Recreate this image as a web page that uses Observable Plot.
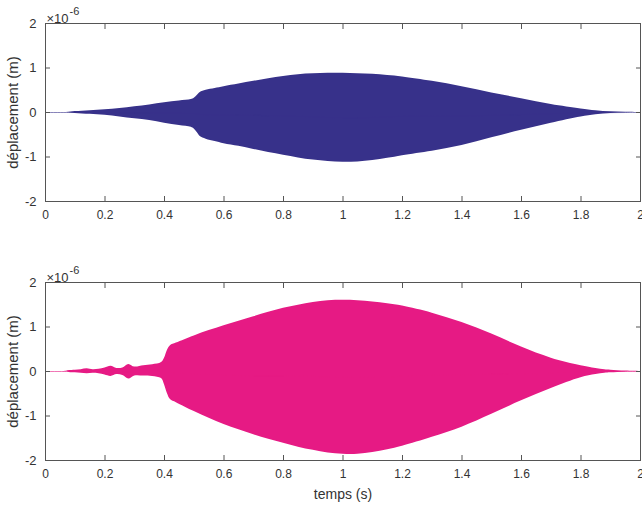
<!DOCTYPE html>
<html>
<head>
<meta charset="utf-8">
<script src="https://cdn.jsdelivr.net/npm/d3@7"></script>
<script src="https://cdn.jsdelivr.net/npm/@observablehq/plot@0.6"></script>
<style>
  html, body { margin: 0; padding: 0; background: #fff; }
  #wrap { position: relative; width: 642px; height: 512px; font-family: "Liberation Sans", Arial, Helvetica, sans-serif; }
  #wrap > svg { position: absolute; left: 0; }
</style>
</head>
<body>
<div id="wrap"></div>
<script>
// ---- data (values in units of 1e-6 m) ----
const timeTop = [0, 0.07, 0.1, 0.15, 0.2, 0.25, 0.3, 0.35, 0.4, 0.45, 0.49, 0.5, 0.51, 0.52, 0.54, 0.57, 0.6, 0.65, 0.7, 0.75, 0.8, 0.85, 0.9, 0.95, 1.0, 1.05, 1.1, 1.15, 1.2, 1.3, 1.4, 1.5, 1.6, 1.7, 1.8, 1.85, 1.9, 1.95, 2.0];
const upperTop = [0, 0, 0.02, 0.04, 0.06, 0.09, 0.13, 0.17, 0.22, 0.26, 0.29, 0.32, 0.38, 0.45, 0.5, 0.54, 0.58, 0.64, 0.7, 0.76, 0.81, 0.85, 0.87, 0.88, 0.88, 0.87, 0.86, 0.83, 0.8, 0.7, 0.58, 0.44, 0.31, 0.18, 0.08, 0.04, 0.015, 0.005, 0];
const lowerTop = [0, 0, -0.02, -0.04, -0.06, -0.1, -0.14, -0.18, -0.24, -0.29, -0.33, -0.37, -0.45, -0.54, -0.6, -0.65, -0.7, -0.76, -0.83, -0.9, -0.96, -1.02, -1.07, -1.1, -1.12, -1.11, -1.08, -1.03, -0.97, -0.87, -0.74, -0.57, -0.4, -0.24, -0.1, -0.05, -0.02, -0.005, 0];

const timeBottom = [0, 0.07, 0.08, 0.1, 0.12, 0.14, 0.16, 0.18, 0.2, 0.22, 0.24, 0.26, 0.28, 0.3, 0.33, 0.36, 0.39, 0.4, 0.41, 0.42, 0.44, 0.5, 0.55, 0.6, 0.65, 0.7, 0.75, 0.8, 0.85, 0.9, 0.95, 1.0, 1.05, 1.1, 1.15, 1.2, 1.3, 1.4, 1.5, 1.6, 1.7, 1.8, 1.85, 1.88, 1.9, 1.95, 2.0];
const upperBottom = [0, 0.005, 0.02, 0.03, 0.04, 0.06, 0.04, 0.05, 0.08, 0.12, 0.07, 0.08, 0.16, 0.1, 0.13, 0.15, 0.2, 0.3, 0.48, 0.58, 0.64, 0.8, 0.92, 1.03, 1.13, 1.23, 1.33, 1.42, 1.49, 1.55, 1.59, 1.6, 1.59, 1.56, 1.52, 1.47, 1.31, 1.1, 0.84, 0.55, 0.3, 0.13, 0.07, 0.04, 0.03, 0.01, 0];
const lowerBottom = [0, -0.005, -0.02, -0.03, -0.04, -0.05, -0.04, -0.05, -0.08, -0.11, -0.07, -0.09, -0.17, -0.1, -0.1, -0.11, -0.16, -0.3, -0.5, -0.63, -0.7, -0.9, -1.05, -1.19, -1.31, -1.42, -1.52, -1.61, -1.7, -1.77, -1.83, -1.86, -1.86, -1.82, -1.76, -1.68, -1.48, -1.25, -0.96, -0.66, -0.38, -0.14, -0.07, -0.04, -0.03, -0.01, 0];

const xTicks = [0, 0.2, 0.4, 0.6, 0.8, 1, 1.2, 1.4, 1.6, 1.8, 2];
const yTicks = [-2, -1, 0, 1, 2];
const yLabel = "déplacement (m)";
const xLabel = "temps (s)";
const exponentBase = "×10";
const exponentPower = "-6";

const colorTop = "#37318a";
const colorBottom = "#e61a84";

// ---- build ----
const axisColor = "#555";
const textColor = "#333";
const fmt = d => (d < 0 ? "-" + Math.abs(d) : String(d));

function rows(t, up, lo) {
  return t.map((x, i) => ({t: x, hi: up[i], lo: lo[i], mid: (up[i] + lo[i]) / 2}));
}

function panel({data, color, top, height, marginTop, marginBottom, withXLabel}) {
  const marks = [
    Plot.areaY(data, {x: "t", y1: "lo", y2: "hi", fill: color, curve: "catmull-rom"}),
    Plot.lineY(data, {x: "t", y: "mid", stroke: color, strokeWidth: 1, strokeOpacity: 0.6, curve: "catmull-rom"}),
    Plot.frame({stroke: axisColor, strokeWidth: 1}),
    Plot.axisX(xTicks, {anchor: "bottom", tickSize: -5, tickPadding: 14, stroke: axisColor, fill: textColor, tickFormat: fmt, label: null, fontSize: 12}),
    Plot.axisX(xTicks, {anchor: "top", tickSize: -5, stroke: axisColor, fill: "none", label: null}),
    Plot.axisY(yTicks, {anchor: "left", tickSize: -5, tickPadding: 14, stroke: axisColor, fill: textColor, tickFormat: fmt, label: null, fontSize: 13}),
    Plot.axisY(yTicks, {anchor: "right", tickSize: -5, stroke: axisColor, fill: "none", label: null}),
    Plot.text([yLabel], {frameAnchor: "left", dx: -32, rotate: -90, fill: textColor, fontSize: 15, textAnchor: "middle"}),
    Plot.text([exponentBase], {frameAnchor: "top-left", dx: 1, dy: -10, textAnchor: "start", fill: textColor, fontSize: 13}),
    Plot.text([exponentPower], {frameAnchor: "top-left", dx: 24, dy: -16, textAnchor: "start", fill: textColor, fontSize: 11})
  ];
  if (withXLabel) {
    marks.push(Plot.text([xLabel], {frameAnchor: "bottom", dy: 38, fill: textColor, fontSize: 14}));
  }
  const svg = Plot.plot({
    width: 642,
    height,
    marginLeft: 45,
    marginRight: 2,
    marginTop,
    marginBottom,
    style: {fontFamily: '"Liberation Sans", Arial, Helvetica, sans-serif', color: textColor, background: "white", overflow: "visible"},
    x: {domain: [0, 2]},
    y: {domain: [-2, 2]},
    marks
  });
  svg.style.top = top + "px";
  return svg;
}

const wrap = document.getElementById("wrap");
wrap.append(panel({data: rows(timeTop, upperTop, lowerTop), color: colorTop, top: 0, height: 245, marginTop: 23, marginBottom: 44, withXLabel: false}));
wrap.append(panel({data: rows(timeBottom, upperBottom, lowerBottom), color: colorBottom, top: 245, height: 267, marginTop: 37, marginBottom: 52, withXLabel: true}));
</script>
</body>
</html>
